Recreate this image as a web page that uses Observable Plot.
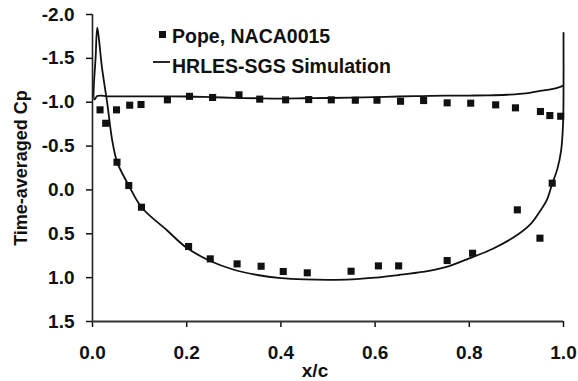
<!DOCTYPE html>
<html>
<head>
<meta charset="utf-8">
<script src="https://cdn.jsdelivr.net/npm/d3@7"></script>
<script src="https://cdn.jsdelivr.net/npm/@observablehq/plot@0.6"></script>
<style>
  html, body { margin: 0; padding: 0; background: #fff; }
  #chart { width: 578px; height: 381px; }
</style>
</head>
<body>
<div id="chart"></div>
<script>
// HRLES-SGS simulation: suction branch (trailing edge -> leading edge),
// then the leading-edge peak and the pressure branch back to the trailing edge.
const simX = [
  1.000, 0.990, 0.975, 0.950, 0.920, 0.880, 0.840, 0.800, 0.750, 0.700,
  0.650, 0.600, 0.550, 0.500, 0.450, 0.400, 0.350, 0.300, 0.250, 0.200,
  0.150, 0.100, 0.060, 0.030, 0.018, 0.010, 0.004,
  0.007, 0.010, 0.013, 0.020, 0.031, 0.042, 0.052, 0.065, 0.077, 0.104,
  0.158, 0.200, 0.250, 0.300, 0.350, 0.400, 0.450, 0.500, 0.550, 0.600,
  0.650, 0.700, 0.750, 0.800, 0.850, 0.900, 0.930, 0.951, 0.965, 0.976,
  0.987, 0.995, 0.999, 1.000, 1.000
];
const simCp = [
  -1.19, -1.17, -1.15, -1.13, -1.10, -1.085, -1.078, -1.076, -1.075, -1.07,
  -1.065, -1.058, -1.052, -1.048, -1.045, -1.042, -1.045, -1.05, -1.058, -1.065,
  -1.066, -1.066, -1.066, -1.068, -1.075, -1.07, -1.03,
  -1.55, -1.85, -1.75, -1.40, -1.00, -0.56, -0.32, -0.17, -0.05, 0.197,
  0.46, 0.66, 0.81, 0.91, 0.97, 1.005, 1.02, 1.025, 1.02, 1.0,
  0.97, 0.935, 0.88, 0.78, 0.67, 0.52, 0.39, 0.235, 0.11, -0.07,
  -0.24, -0.45, -0.75, -1.02, -1.79
];

// Pope, NACA0015 measurements
const popeX = [
  0.016, 0.028, 0.051, 0.079, 0.103, 0.159, 0.206, 0.255, 0.311, 0.355,
  0.410, 0.459, 0.507, 0.558, 0.604, 0.654, 0.703, 0.753, 0.803, 0.856,
  0.898, 0.951, 0.971, 0.994,
  0.052, 0.077, 0.104, 0.204, 0.250, 0.307, 0.358, 0.405, 0.456, 0.549,
  0.607, 0.650, 0.753, 0.807, 0.902, 0.950, 0.976
];
const popeCp = [
  -0.913, -0.76, -0.913, -0.966, -0.974, -1.027, -1.067, -1.054, -1.084, -1.035,
  -1.027, -1.03, -1.027, -1.023, -1.023, -1.011, -1.019, -0.993, -0.989, -0.97,
  -0.936, -0.894, -0.848, -0.84,
  -0.316, -0.05, 0.197, 0.645, 0.786, 0.843, 0.87, 0.93, 0.945, 0.927,
  0.866, 0.866, 0.805, 0.722, 0.227, 0.55, -0.077
];

const xTicks = [0, 0.2, 0.4, 0.6, 0.8, 1.0];
const yTicks = [-2.0, -1.5, -1.0, -0.5, 0.0, 0.5, 1.0, 1.5];

const legendItems = [
  {label: "Pope, NACA0015", kind: "square"},
  {label: "HRLES-SGS Simulation", kind: "line"}
];

const sim = simX.map((x, i) => ({x, cp: simCp[i]}));
const pope = popeX.map((x, i) => ({x, cp: popeCp[i]}));

const ink = "#111";
const fmt = d => d.toFixed(1);

const chart = Plot.plot({
  width: 578,
  height: 381,
  marginLeft: 92,
  marginRight: 15,
  marginTop: 14,
  marginBottom: 60,
  x: {domain: [0, 1]},
  y: {domain: [-2, 1.5], reverse: true},
  style: {
    fontFamily: "'Liberation Sans', Arial, sans-serif",
    fontSize: "19px",
    fontWeight: "bold",
    color: ink,
    background: "#fff"
  },
  marks: [
    Plot.axisY(yTicks, {tickSize: 6, tickPadding: 12, tickFormat: fmt, label: null, strokeWidth: 1.5}),
    Plot.axisX(xTicks, {tickSize: 6, tickPadding: 18, tickFormat: fmt, label: null, strokeWidth: 1.5}),
    Plot.ruleX([0], {stroke: "#222", strokeWidth: 1.6}),
    Plot.ruleY([1.5], {stroke: "#333", strokeWidth: 1.8}),
    Plot.line(sim, {x: "x", y: "cp", curve: "catmull-rom", stroke: ink, strokeWidth: 1.8}),
    Plot.dot(pope, {x: "x", y: "cp", symbol: "square", r: 4, fill: ink, stroke: null}),
    Plot.text(["Time-averaged Cp"], {frameAnchor: "left", textAnchor: "middle", dx: -71, rotate: -90, fontSize: 18, fill: ink}),
    Plot.text(["x/c"], {frameAnchor: "bottom", textAnchor: "middle", dx: -13, dy: 55, fill: ink})
  ]
});

// Legend inside the plot area, upper left
const svg = d3.select(chart);
const legend = svg.append("g")
  .attr("transform", "translate(153,24)")
  .attr("font-family", "'Liberation Sans', Arial, sans-serif")
  .attr("font-size", 19.5)
  .attr("font-weight", "bold")
  .attr("text-anchor", "start");
const rows = legend.selectAll("g").data(legendItems).join("g")
  .attr("transform", (d, i) => `translate(0,${i * 30})`);
rows.filter(d => d.kind === "square").append("rect")
  .attr("x", 6).attr("y", 7).attr("width", 7).attr("height", 7).attr("fill", ink);
rows.filter(d => d.kind === "line").append("line")
  .attr("x1", 0).attr("x2", 17).attr("y1", 8).attr("y2", 8)
  .attr("stroke", ink).attr("stroke-width", 1.8);
rows.append("text")
  .attr("x", 19).attr("y", 19)
  .attr("text-anchor", "start")
  .attr("fill", ink)
  .text(d => d.label);

document.getElementById("chart").appendChild(chart);
</script>
</body>
</html>
